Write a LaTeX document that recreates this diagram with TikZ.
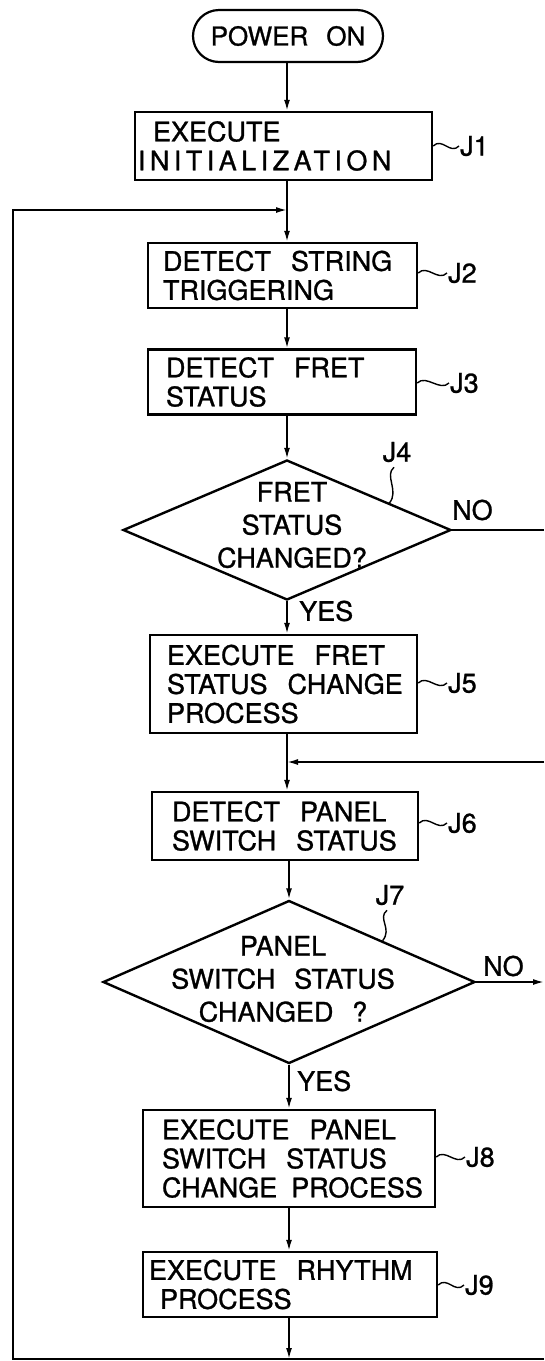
\documentclass[tikz,border=0pt]{standalone}
\usepackage{fontspec}
\setmainfont{TeX Gyre Heros}[WordSpace=2.5,FakeBold=1]
\usetikzlibrary{shapes.geometric,arrows.meta,calc}
\newcommand\wgap{~\hspace{11pt}}
\begin{document}
\begin{tikzpicture}[x=1pt,y=-1pt,
  every node/.style={inner sep=0pt},
  stepbox/.style={draw,line width=2.4pt,inner xsep=0pt,inner ysep=0pt,align=left,font=\fontsize{27}{29}\selectfont},
  decision/.style={draw,diamond,line width=2.4pt,inner sep=0pt},
  dtext/.style={align=center,font=\fontsize{27}{33}\selectfont},
  lbl/.style={inner sep=1pt,font=\fontsize{27}{29}\selectfont},
  flow/.style={line width=1.7pt},
  arr/.style={flow,-{Latex[length=11pt,width=6pt]}},
  squig/.style={line width=1.4pt}
]
\useasboundingbox (0,0) rectangle (544,1361);
\coordinate (m) at (287,0);
\coordinate (rr) at (544,0);

% nodes
\node[draw,line width=2.2pt,rounded corners=26pt,minimum width=190pt,minimum height=52pt,font=\fontsize{26}{28}\selectfont] (pon) at (288,36) {POWER~ON};
\node[stepbox,text width=297pt,minimum height=68pt] (J1) at (283.5,146) {\hspace*{18pt}EXECUTE\\\hspace*{3pt}{\addfontfeature{LetterSpace=16.5}INITIALIZATION}};
\node[stepbox,text width=269pt,minimum height=65pt] (J2) at (282.5,275.5) {\hspace*{15pt}DETECT\wgap STRING\\\hspace*{15pt}TRIGGERING};
\node[stepbox,text width=268pt,minimum height=65pt] (J3) at (282,382) {\hspace*{18pt}DETECT\wgap FRET\\\hspace*{18pt}STATUS};
\node[decision,minimum width=328pt,minimum height=140pt] (J4) at (287,530) {};
\node[dtext] (J4t) at (292,525) {FRET\\STATUS\\CHANGED?};
\node[stepbox,text width=267pt,minimum height=98pt] (J5) at (283.5,684) {\hspace*{17pt}EXECUTE\wgap FRET\\\hspace*{17pt}STATUS\wgap CHANGE\\\hspace*{17pt}PROCESS};
\node[stepbox,text width=266pt,minimum height=68pt] (J6) at (285,826) {\hspace*{20pt}DETECT\wgap PANEL\\\hspace*{20pt}SWITCH\wgap STATUS};
\node[decision,minimum width=372pt,minimum height=163pt] (J7) at (289,982) {};
\node[dtext] (J7t) at (283,979) {PANEL\\SWITCH~STATUS\\CHANGED~?};
\node[stepbox,text width=292pt,minimum height=97pt] (J8) at (289,1158.5) {\hspace*{19pt}EXECUTE\wgap PANEL\\\hspace*{19pt}SWITCH\wgap STATUS\\\hspace*{19pt}CHANGE~\hspace{5pt}PROCESS};
\node[stepbox,text width=294pt,minimum height=65pt] (J9) at (290,1284.5) {\hspace*{6pt}EXECUTE\wgap RHYTHM\\\hspace*{17pt}PROCESS};

% labels
\node[lbl,anchor=west] (J1l) at (459,146) {J1};
\node[lbl,anchor=west] (J2l) at (447,273) {J2};
\node[lbl,anchor=west] (J3l) at (449,383) {J3};
\node[lbl] (J4l) at (397,452) {J4};
\node[lbl,anchor=west] (J5l) at (447,683) {J5};
\node[lbl,anchor=west] (J6l) at (447,823) {J6};
\node[lbl] (J7l) at (390,895) {J7};
\node[lbl,anchor=west] (J8l) at (465,1157) {J8};
\node[lbl,anchor=west] (J9l) at (464,1285) {J9};
\node[lbl,anchor=west] (no4) at (451,510) {NO};
\node[lbl,anchor=west] (yes4) at (298,611) {YES};
\node[lbl,anchor=west] (no7) at (482,966) {NO};
\node[lbl,anchor=west] (yes7) at (296,1081) {YES};

% squiggle leaders
\draw[squig] (J1.east |- J1l.west) .. controls +(9,-9) and +(-9,9) .. (J1l.west);
\draw[squig] (J2.east |- J2l.west) .. controls +(9,-9) and +(-9,9) .. (J2l.west);
\draw[squig] (J3.east |- J3l.west) .. controls +(9,-9) and +(-9,9) .. (J3l.west);
\draw[squig] (J5.east |- J5l.west) .. controls +(9,-9) and +(-9,9) .. (J5l.west);
\draw[squig] (J6.east |- J6l.west) .. controls +(9,-9) and +(-9,9) .. (J6l.west);
\draw[squig] (J8.east |- J8l.west) .. controls +(9,-9) and +(-9,9) .. (J8l.west);
\draw[squig] (J9.east |- J9l.west) .. controls +(9,-9) and +(-9,9) .. (J9l.west);
\draw[squig] ($(J4l.south)+(-3,4)$) .. controls +(-10,8) and +(10,-12) .. ($(J4.north)!0.62!(J4.east)$);
\draw[squig] ($(J7l.south)+(-3,4)$) .. controls +(-10,8) and +(10,-12) .. ($(J7.north)!0.5!(J7.east)$);

% connectors
\draw[arr] (pon.south -| m) -- (J1.north -| m);
\draw[arr] (J1.south -| m) -- (J2.north -| m);
\draw[arr] (J2.south -| m) -- (J3.north -| m);
\draw[arr] (J3.south -| m) -- (J4.north);
\draw[arr] (J4.south) -- (J5.north -| J4.south);
\draw[flow] (J4.east) -- (J4.east -| rr);
\draw[arr] (J5.south -| m) -- (J6.north -| m);
\coordinate (mg) at (544,762);
\draw[arr] (mg) -- (mg -| m);
\draw[arr] (J6.south -| J7.north) -- (J7.north);
\draw[arr] (J7.east) -- (J7.east -| rr);
\draw[arr] (J7.south) -- (J8.north -| J7.south);
\draw[arr] (J8.south -| J7.south) -- (J9.north -| J7.south);
\coordinate (bl) at (13,1359);
\coordinate (br) at (544,1359);
\coordinate (lt) at (13,210);
\draw[arr] (J9.south -| J7.south) -- (J7.south |- bl);
\draw[arr] (br) -- (bl) -- (lt) -- (lt -| m);
\end{tikzpicture}
\end{document}
